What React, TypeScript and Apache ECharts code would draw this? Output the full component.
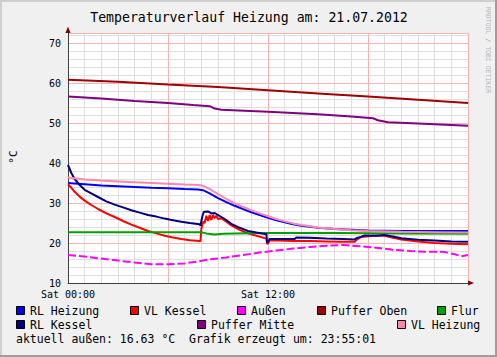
import React, { useEffect, useRef } from 'react';
import * as echarts from 'echarts';

const chartTitle = 'Temperaturverlauf Heizung am: 21.07.2012';
const yAxisName = '°C';
const footerText = 'aktuell außen: 16.63 °C  Grafik erzeugt um: 23:55:01';
const watermark = 'RRDTOOL / TOBI OETIKER';
const xTickLabels: Record<number, string> = { 0: 'Sat 00:00', 12: 'Sat 12:00' };
const yMin = 10;
const yMax = 72.5;

const seriesNames = ['RL Heizung', 'VL Kessel', 'Außen', 'Puffer Oben', 'Flur', 'RL Kessel', 'Puffer Mitte', 'VL Heizung'];
const seriesColors = ['#0000FF', '#FF0000', '#FF00FF', '#A00000', '#00A000', '#000080', '#800080', '#FF88AA'];

// [hour, °C]
const rlHeizung = [
  [0, 35.0], [1, 34.7], [2, 34.4], [3, 34.2], [4, 34.0], [5, 33.8], [6, 33.7], [7, 33.5], [7.8, 33.4],
  [8.1, 33.2], [8.5, 32.4], [9, 31.2], [9.5, 30.2], [10, 29.3], [10.5, 28.5], [11, 27.7], [11.5, 27.0],
  [12, 26.3], [12.5, 25.7], [13, 25.2], [13.5, 24.7], [14, 24.3], [15, 23.8], [16, 23.5], [17, 23.3],
  [18, 23.1], [20, 23.0], [22, 23.0], [24, 23.0],
];
const vlKessel = [
  [0, 34.7], [0.2, 33.8], [0.4, 32.8], [0.7, 31.6], [1, 30.6], [1.4, 29.5], [1.8, 28.5], [2.3, 27.4],
  [2.8, 26.5], [3.3, 25.5], [3.8, 24.6], [4.3, 23.8], [4.8, 23.0], [5.3, 22.4], [5.8, 21.8], [6.3, 21.4],
  [6.8, 21.0], [7.3, 20.7], [7.9, 20.5], [7.95, 20.5], [8.0, 23.5], [8.1, 25.3], [8.2, 25.0], [8.3, 26.8],
  [8.4, 25.5], [8.5, 27.0], [8.6, 25.8], [8.7, 27.0], [8.8, 26.2], [8.9, 26.8], [9.0, 26.0], [9.2, 26.2],
  [9.5, 25.3], [9.8, 24.4], [10.3, 23.3], [10.8, 22.4], [11.3, 21.8], [11.9, 21.1], [11.95, 19.7],
  [12.1, 20.6], [12.6, 20.6], [13.5, 20.5], [14.5, 20.5], [15.5, 20.4], [16.5, 20.3], [17.2, 20.3],
  [17.3, 20.8], [17.6, 21.5], [18, 21.7], [18.5, 21.9], [19.0, 21.8], [19.5, 21.3], [20, 20.9],
  [21, 20.4], [22, 20.0], [23, 19.8], [24, 19.7],
];
const aussen = [
  [0, 17.0], [1, 16.6], [2, 16.1], [3, 15.6], [4, 15.1], [5, 14.7], [6, 14.7], [7, 14.9], [7.8, 15.4],
  [8.5, 15.9], [9.5, 16.4], [10.5, 17.0], [11.5, 17.6], [12.5, 18.1], [13.5, 18.6], [14.5, 19.0],
  [15.5, 19.3], [16.5, 19.5], [17.5, 19.2], [18.5, 18.8], [19.5, 18.3], [20.5, 18.0], [21.5, 17.8],
  [22.5, 17.8], [23.2, 17.2], [23.6, 16.7], [24, 17.0],
];
const pufferOben = [
  [0, 60.8], [3, 60.3], [6, 59.6], [9, 59.0], [12, 58.2], [15, 57.4], [18, 56.6], [21, 55.8], [24, 55.0],
];
const flur = [
  [0, 22.7], [8, 22.7], [8.3, 22.4], [8.8, 22.1], [9.3, 22.3], [10, 22.4], [12, 22.5], [16, 22.5],
  [20, 22.4], [24, 22.3],
];
const rlKessel = [
  [0, 39.5], [0.2, 37.5], [0.4, 36.0], [0.7, 34.5], [1, 33.3], [1.4, 32.4], [1.8, 31.5], [2.3, 30.4],
  [2.8, 29.6], [3.3, 28.9], [3.8, 28.2], [4.3, 27.6], [4.8, 27.0], [5.3, 26.6], [5.8, 26.1], [6.3, 25.7],
  [6.8, 25.3], [7.3, 25.0], [7.9, 24.7], [7.95, 24.3], [8.05, 26.5], [8.15, 27.8], [8.4, 27.9],
  [8.6, 27.4], [8.8, 27.5], [9.0, 27.0], [9.4, 26.0], [9.8, 24.8], [10.3, 23.8], [10.8, 23.0],
  [11.3, 22.6], [11.9, 22.2], [11.95, 20.0], [12.1, 21.0], [12.6, 21.0], [13.0, 21.0], [13.6, 21.0],
  [13.7, 21.4], [14.5, 21.3], [15.5, 21.1], [16.5, 21.0], [17.2, 20.9], [17.3, 21.2], [17.6, 21.6],
  [17.8, 21.9], [18.5, 21.8], [19.0, 22.0], [19.5, 21.6], [20, 21.2], [21, 20.8], [22, 20.6],
  [23, 20.4], [24, 20.3],
];
const pufferMitte = [
  [0, 56.6], [2, 56.1], [4, 55.5], [6, 55.0], [7.5, 54.5], [8.5, 54.2], [8.8, 53.6], [9.2, 53.3],
  [12, 52.8], [15, 52.2], [17, 51.6], [18.3, 51.2], [18.6, 50.7], [19.2, 50.2], [21, 49.9], [24, 49.3],
];
const vlHeizung = [
  [0, 36.4], [1, 35.9], [2, 35.6], [3, 35.4], [4, 35.2], [5, 35.0], [6, 34.8], [7, 34.6], [7.8, 34.5],
  [8.1, 34.3], [8.5, 33.5], [9, 32.2], [9.5, 31.0], [10, 29.9], [10.5, 29.0], [11, 28.2], [11.5, 27.4],
  [12, 26.7], [12.5, 26.0], [13, 25.4], [13.5, 24.9], [14, 24.5], [15, 23.9], [16, 23.5], [17, 23.2],
  [18, 23.0], [20, 22.8], [22, 22.7], [24, 22.6],
];
const seriesData = [rlHeizung, vlKessel, aussen, pufferOben, flur, rlKessel, pufferMitte, vlHeizung];

// legend layout (pixels): row, box x
const legendLayout = [
  [0, 16], [0, 130], [0, 237], [0, 317], [0, 437], [1, 16], [1, 197], [1, 397],
];

const MONO = '"DejaVu Sans Mono", monospace';

export default function App() {
  const ref = useRef<HTMLDivElement>(null);
  useEffect(() => {
    if (!ref.current) return;
    const chart = echarts.init(ref.current, undefined, { renderer: 'svg' });
    const gridColor = '#dedede';
    const majorColor = '#f4b4b4';

    const graphics: any[] = [
      { type: 'rect', shape: { x: 0, y: 0, width: 497, height: 2 }, style: { fill: '#cfcfcf' }, silent: true },
      { type: 'rect', shape: { x: 0, y: 0, width: 2, height: 357 }, style: { fill: '#cfcfcf' }, silent: true },
      { type: 'rect', shape: { x: 495, y: 0, width: 2, height: 357 }, style: { fill: '#9e9e9e' }, silent: true },
      { type: 'rect', shape: { x: 0, y: 355, width: 497, height: 2 }, style: { fill: '#9e9e9e' }, silent: true },
      {
        type: 'text', x: 249, y: 17,
        style: { text: chartTitle, font: `13.2px ${MONO}`, fill: '#000', align: 'center', verticalAlign: 'middle', textAlign: 'center', textVerticalAlign: 'middle' },
      },
      {
        type: 'text', x: 13, y: 157, rotation: Math.PI / 2,
        style: { text: yAxisName, font: `11px ${MONO}`, fill: '#000', align: 'center', verticalAlign: 'middle', textAlign: 'center', textVerticalAlign: 'middle' },
      },
      {
        type: 'text', x: 487.5, y: 7, rotation: -Math.PI / 2,
        style: { text: watermark, font: `6.5px ${MONO}`, fill: '#b4b4b4', align: 'left', verticalAlign: 'middle', textAlign: 'left', textVerticalAlign: 'middle' },
      },
      { type: 'polygon', shape: { points: [[65.5, 33], [70.5, 33], [68, 26.5]] }, style: { fill: '#7f0000' }, z: 10 },
      { type: 'polygon', shape: { points: [[468, 280.5], [468, 285.5], [474, 283]] }, style: { fill: '#7f0000' }, z: 10 },
      {
        type: 'text', x: 16, y: 339,
        style: { text: footerText, font: `11.5px ${MONO}`, fill: '#000', align: 'left', verticalAlign: 'middle', textAlign: 'left', textVerticalAlign: 'middle' },
      },
    ];
    seriesNames.forEach((name, i) => {
      const [row, bx] = legendLayout[i];
      const cy = 311 + row * 14;
      graphics.push({
        type: 'rect', shape: { x: bx + 0.5, y: cy - 4.5, width: 8, height: 8 },
        style: { fill: seriesColors[i], stroke: '#000', lineWidth: 1 },
      });
      graphics.push({
        type: 'text', x: bx + 14, y: cy,
        style: { text: name, font: `11.5px ${MONO}`, fill: '#000', align: 'left', verticalAlign: 'middle', textAlign: 'left', textVerticalAlign: 'middle' },
      });
    });

    chart.setOption({
      animation: false,
      backgroundColor: '#f0f0f0',
      grid: { left: 68, top: 33, width: 400, height: 250, show: true, backgroundColor: '#ffffff', borderWidth: 0 },
      xAxis: [
        {
          type: 'value', min: 0, max: 24, interval: 1, position: 'bottom',
          axisLine: { show: false }, axisTick: { show: false }, axisLabel: { show: false },
          splitLine: { show: true, lineStyle: { color: gridColor, width: 1 } },
        },
        {
          type: 'value', min: 0, max: 24, interval: 6, position: 'bottom', z: 1,
          axisLine: { show: true, lineStyle: { color: '#404040', width: 1 } },
          axisTick: { show: false },
          axisLabel: {
            show: true, margin: 6, color: '#000', fontFamily: MONO, fontSize: 10,
            formatter: (v: number) => xTickLabels[v] ?? '',
          },
          splitLine: { show: true, lineStyle: { color: majorColor, width: 1 } },
        },
      ],
      yAxis: [
        {
          type: 'value', min: yMin, max: yMax, interval: 2, position: 'left',
          axisLine: { show: false }, axisTick: { show: false }, axisLabel: { show: false },
          splitLine: { show: true, lineStyle: { color: gridColor, width: 1 } },
        },
        {
          type: 'value', min: yMin, max: yMax, interval: 10, position: 'left', z: 1,
          axisLine: { show: true, lineStyle: { color: '#404040', width: 1 } },
          axisTick: { show: false },
          axisLabel: {
            show: true, margin: 7, color: '#000', fontFamily: MONO, fontSize: 10, showMaxLabel: false,
            formatter: (v: number) => (v % 10 === 0 ? String(v) : ''),
          },
          splitLine: { show: true, lineStyle: { color: majorColor, width: 1 } },
        },
      ],
      series: seriesNames.map((name, i) => ({
        name, type: 'line', xAxisIndex: 0, yAxisIndex: 0,
        data: seriesData[i], showSymbol: false, symbol: 'none', smooth: false,
        lineStyle: { color: seriesColors[i], width: 2, type: name === 'Außen' ? [8, 3] : 'solid' },
        itemStyle: { color: seriesColors[i] }, z: 3 + i * 0.01,
      })),
      graphic: graphics,
    });
    return () => chart.dispose();
  }, []);
  return <div ref={ref} style={{ position: 'absolute', left: 0, top: 0, width: 497, height: 357 }} />;
}
